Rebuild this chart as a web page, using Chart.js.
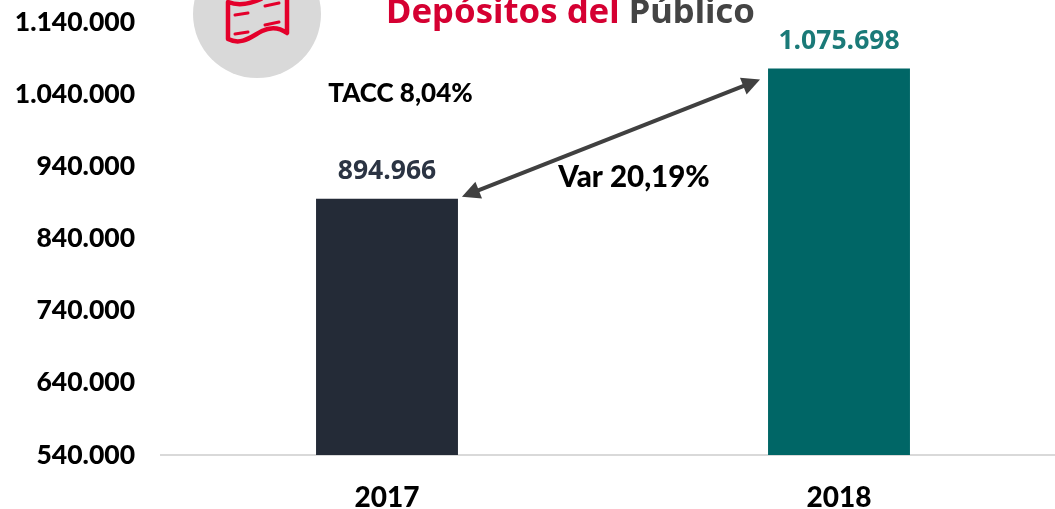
<!DOCTYPE html>
<html><head><meta charset="utf-8">
<script src="https://cdn.jsdelivr.net/npm/chart.js@4"></script>
<style>html,body{margin:0;padding:0;background:#fff;overflow:hidden;width:1055px;height:509px}
#w{position:absolute;left:0;top:0;width:1075px;height:509px}</style></head>
<body><div id="w"><canvas id="c" width="1075" height="509"></canvas></div>
<script>
const categories = ['2017','2018'];
const deposits = [894966,1075698];
const valueLabels = ['894.966','1.075.698'];
const barColors = ['#242b37','#006666'];
const labelColors = ['#2b3443','#1a7a78'];
const yTicks = [540000,640000,740000,840000,940000,1040000,1140000];
const titleParts = ['Depósitos del ','Público'];
const notes = ['TACC 8,04%','Var 20,19%'];
const fmt = v => String(v).replace(/\B(?=(\d{3})+$)/g,'.');

function arrowHead(ctx,x,y,ang,len,w){
  ctx.beginPath();ctx.moveTo(x,y);
  ctx.lineTo(x-len*Math.cos(ang)+w*Math.sin(ang),y-len*Math.sin(ang)-w*Math.cos(ang));
  ctx.lineTo(x-len*Math.cos(ang)-w*Math.sin(ang),y-len*Math.sin(ang)+w*Math.cos(ang));
  ctx.closePath();ctx.fill();
}
const deco = {
  id:'deco',
  afterDatasetsDraw(chart){
    const {ctx} = chart;
    const bars = chart.getDatasetMeta(0).data;
    ctx.save();
    ctx.textAlign='center';ctx.textBaseline='middle';
    ctx.font='bold 26.5px "Open Sans"';
    bars.forEach((b,i)=>{ctx.fillStyle=labelColors[i];ctx.fillText(valueLabels[i],b.x,b.y-27);});
    ctx.fillStyle='#000';
    ctx.font='900 26px Lato';
    ctx.fillText(notes[0],400.5,94);
    ctx.font='900 29.5px Lato';
    ctx.fillText(notes[1],634,177);
    // arrow
    const x0=bars[0].x+bars[0].width/2+4, y0=bars[0].y-2;
    const x1=bars[1].x-bars[1].width/2-8, y1=bars[1].y+11;
    const a=Math.atan2(y1-y0,x1-x0);
    ctx.strokeStyle='#404040';ctx.fillStyle='#404040';ctx.lineWidth=4;
    ctx.beginPath();ctx.moveTo(x0+10*Math.cos(a),y0+10*Math.sin(a));ctx.lineTo(x1-10*Math.cos(a),y1-10*Math.sin(a));ctx.stroke();
    arrowHead(ctx,x1,y1,a,18,9);
    arrowHead(ctx,x0,y0,a+Math.PI,18,9);
    // circle + icon
    ctx.fillStyle='#d9d9d9';ctx.beginPath();ctx.arc(257,14,64,0,Math.PI*2);ctx.fill();
    ctx.strokeStyle='#e4002b';ctx.lineWidth=4.5;ctx.lineJoin='round';ctx.lineCap='round';
    ctx.beginPath();
    ctx.moveTo(261,-1);ctx.bezierCurveTo(250,4,238,6,228,2);
    ctx.lineTo(228,39);
    ctx.bezierCurveTo(242,46,252,36,262,31);
    ctx.bezierCurveTo(272,26,280,28,287,33);
    ctx.lineTo(287,-1);
    ctx.stroke();
    ctx.lineWidth=3;
    [[235,15,248,13],[265,6,279,3],[265,25,279,22],[235,34,248,32]].forEach(s=>{
      ctx.beginPath();ctx.moveTo(s[0],s[1]);ctx.lineTo(s[2],s[3]);ctx.stroke();});
    // title
    ctx.textAlign='left';ctx.textBaseline='alphabetic';
    ctx.font='bold 34.7px "Noto Sans"';
    ctx.fillStyle='#d50032';ctx.fillText(titleParts[0],386,23);
    const tw=ctx.measureText(titleParts[0]).width;
    ctx.fillStyle='#444444';ctx.fillText(titleParts[1],386+tw,23);
    ctx.restore();
  }
};
new Chart(document.getElementById('c'),{
  type:'bar',
  data:{labels:categories,datasets:[{data:deposits,backgroundColor:barColors,barPercentage:0.314,categoryPercentage:1}]},
  plugins:[deco],
  options:{
    responsive:false,animation:false,
    layout:{autoPadding:false,padding:{left:0,right:10,top:22,bottom:0}},
    plugins:{legend:{display:false},tooltip:{enabled:false},title:{display:false}},
    scales:{
      x:{grid:{display:false,drawTicks:false},border:{color:'#d9d9d9',width:2},
         afterFit(s){s.height=54;},
         ticks:{color:'#000',font:{family:'Lato',weight:'900',size:28},padding:26}},
      y:{min:540000,max:1140000,afterBuildTicks(s){s.ticks=yTicks.map(v=>({value:v}));},
         afterFit(s){s.width=161;s.paddingTop=0;s.paddingBottom=0;},
         grid:{display:false,drawTicks:false},border:{display:false},
         ticks:{color:'#000',font:{family:'Lato',weight:'900',size:26.5},padding:26,callback:fmt}}
    }
  }
});
</script></body></html>
